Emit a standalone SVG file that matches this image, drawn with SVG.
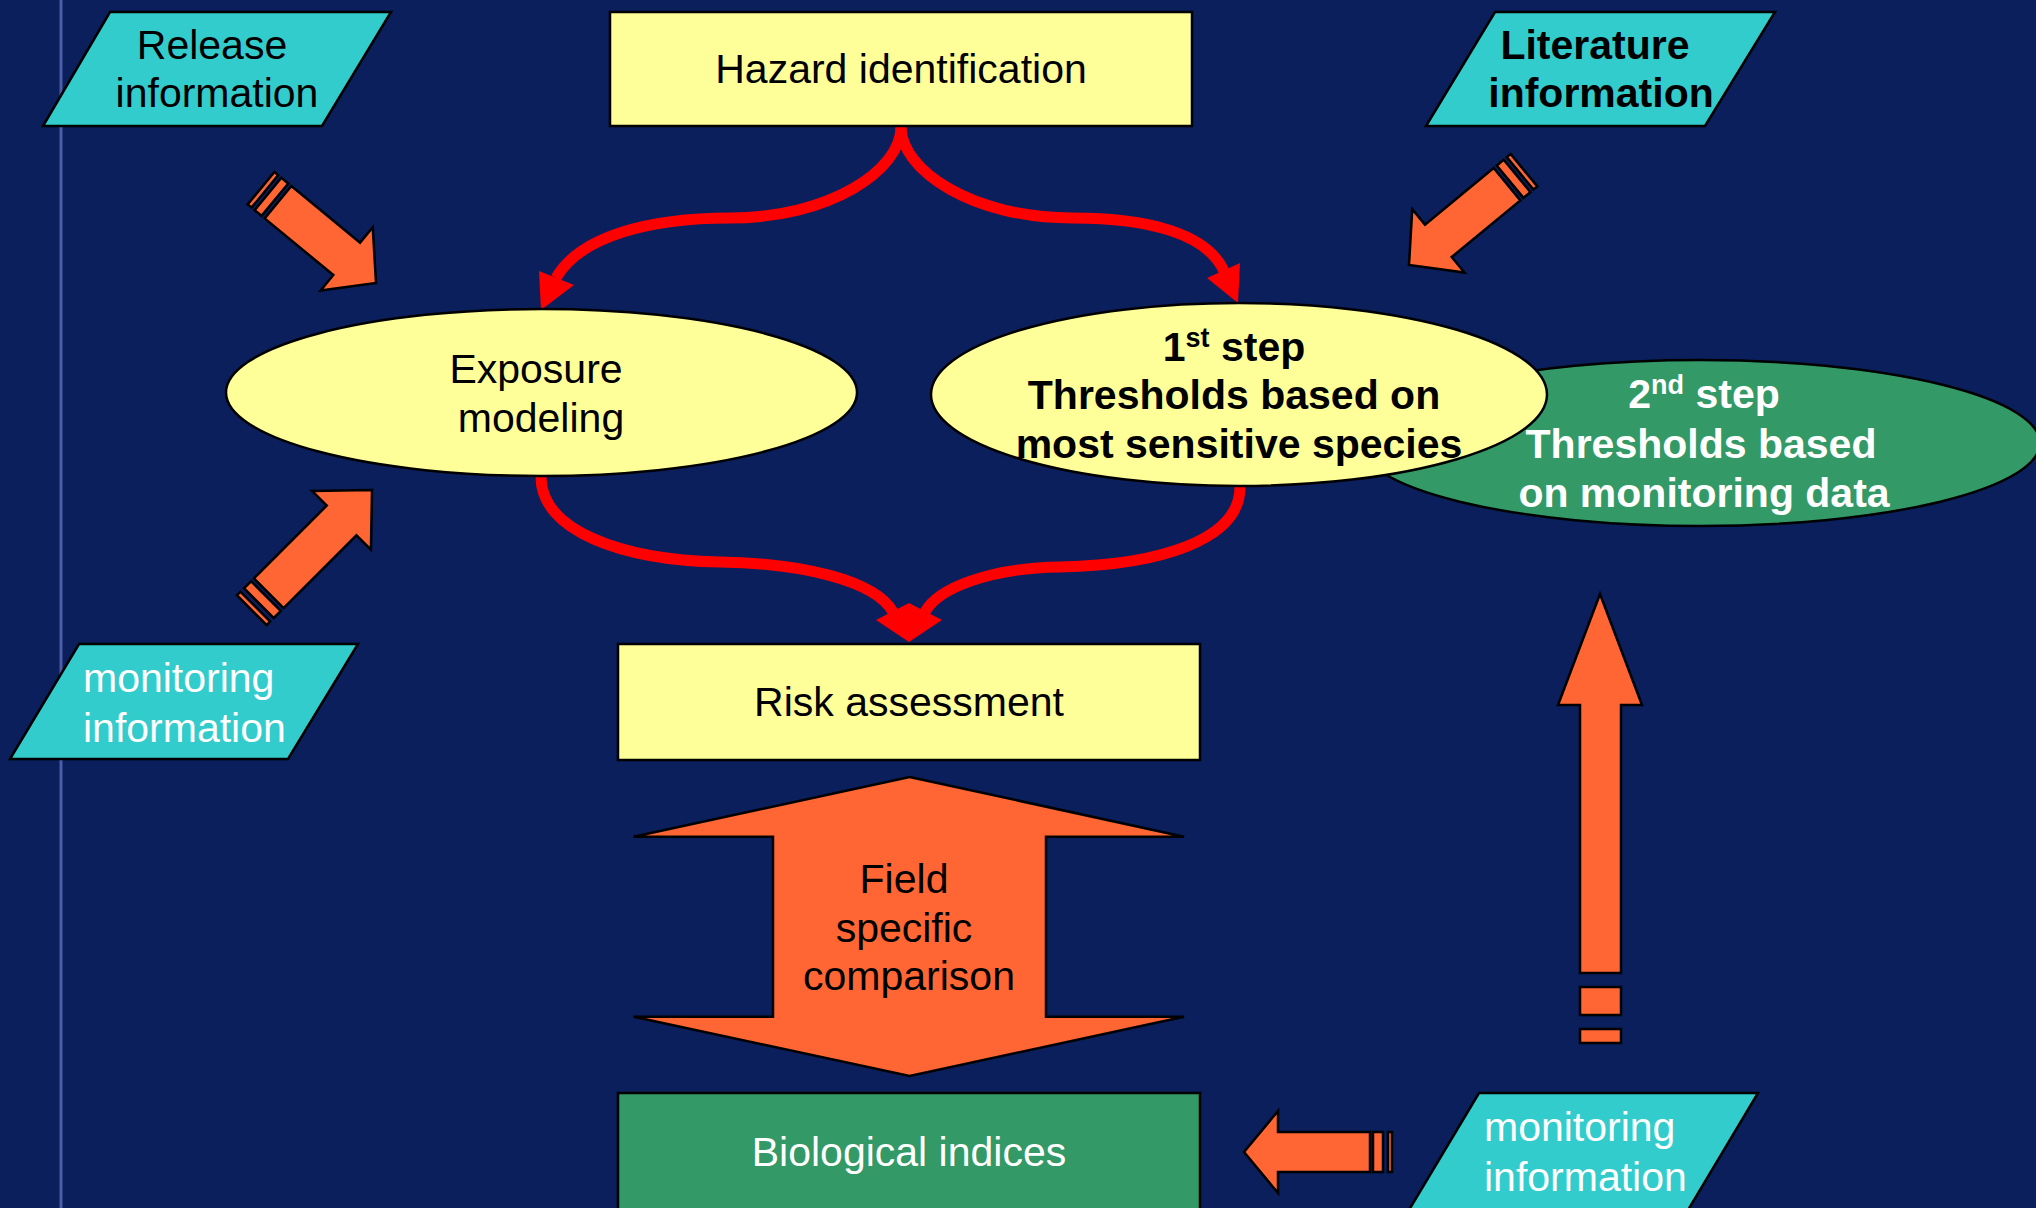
<svg xmlns="http://www.w3.org/2000/svg" width="2036" height="1208" viewBox="0 0 2036 1208">
<style>
.t{font-family:"Liberation Sans",Arial,sans-serif;font-size:41px}
.b{font-weight:bold}
.c{text-anchor:middle}
.k{fill:#000}
.w{fill:#fff}
.par{fill:#33cccc;stroke:#000;stroke-width:2.5}
.box{fill:#ffff99;stroke:#000;stroke-width:2.5}
.grn{fill:#339966;stroke:#000;stroke-width:2.5}
.org{fill:#ff6633;stroke:#000;stroke-width:2.5;stroke-linejoin:miter}
.red{fill:none;stroke:#ff0000;stroke-width:11}
.rh{fill:#ff0000}
</style>
<rect width="2036" height="1208" fill="#0a1f5b"/>
<line x1="61" y1="0" x2="61" y2="1208" stroke="#4d5ca6" stroke-width="3"/>

<g id="release-info">
<polygon class="par" points="110,12 391,12 322,126 43,126"/>
<text class="t k c" x="212" y="59">Release</text>
<text class="t k c" x="217" y="107">information</text>
</g>

<g id="literature-info">
<polygon class="par" points="1495,12 1775,12 1705,126 1426,126"/>
<text class="t b k c" x="1595" y="59">Literature</text>
<text class="t b k c" x="1601" y="107">information</text>
</g>

<g id="monitoring-info-left">
<polygon class="par" points="79,644 358,644 288,759 10,759"/>
<text class="t w" x="83" y="692">monitoring</text>
<text class="t w" x="83" y="742">information</text>
</g>

<g id="monitoring-info-right">
<polygon class="par" points="1479,1093 1758,1093 1688,1210 1409,1210"/>
<text class="t w" x="1484" y="1141">monitoring</text>
<text class="t w" x="1484" y="1191">information</text>
</g>

<g id="connectors">
<path class="red" d="M901,127 C901,170 830,218 730,218 C650,218 580,236 556,278"/>
<polygon class="rh" points="541,310 539,271 574,285"/>
<path class="red" d="M901,127 C901,170 972,218 1072,218 C1150,218 1207,234 1224,271"/>
<polygon class="rh" points="1238,303 1240,263 1207,278"/>
<path class="red" d="M541,477 C541,530 620,560 720,562 C800,563 875,580 893,612"/>
<polygon class="rh" points="909,642 876,620 909,603"/>
<path class="red" d="M1240,487 C1240,540 1160,565 1060,567 C990,568 938,588 925,612"/>
<polygon class="rh" points="909,642 942,620 909,603"/>

<g transform="translate(376,283) rotate(39.5)">
<path class="org" d="M0,0 L-38,-41 L-38,-21 L-127,-21 L-127,21 L-38,21 L-38,41 Z"/>
<rect class="org" x="-140" y="-21" width="9" height="42"/>
<rect class="org" x="-149" y="-21" width="5" height="42"/>
</g>
<g transform="translate(1409,265) rotate(140.5)">
<path class="org" d="M0,0 L-38,-41 L-38,-21 L-127,-21 L-127,21 L-38,21 L-38,41 Z"/>
<rect class="org" x="-140" y="-21" width="9" height="42"/>
<rect class="org" x="-149" y="-21" width="5" height="42"/>
</g>
<g transform="translate(372,490) rotate(-45)">
<path class="org" d="M0,0 L-43,-41.5 L-43,-21 L-146,-21 L-146,21 L-43,21 L-43,41.5 Z"/>
<rect class="org" x="-160" y="-21" width="10" height="42"/>
<rect class="org" x="-170" y="-21" width="5" height="42"/>
</g>
<g id="up-arrow">
<path class="org" d="M1600,594 L1642,705 L1621,705 L1621,973 L1580,973 L1580,705 L1558,705 Z"/>
<rect class="org" x="1580" y="987" width="41" height="28"/>
<rect class="org" x="1580" y="1029" width="41" height="14"/>
</g>
<g id="left-arrow">
<path class="org" d="M1244,1152 L1278,1111 L1278,1132 L1370,1132 L1370,1172 L1278,1172 L1278,1193 Z"/>
<rect class="org" x="1373" y="1132" width="10" height="40"/>
<rect class="org" x="1388" y="1132" width="4" height="40"/>
</g>
</g>

<g id="hazard-identification">
<rect class="box" x="610" y="12" width="582" height="114"/>
<text class="t k c" x="901" y="83">Hazard identification</text>
</g>

<g id="exposure-modeling">
<ellipse class="box" cx="541.5" cy="392.5" rx="315.5" ry="83.5"/>
<text class="t k c" x="536" y="383">Exposure</text>
<text class="t k c" x="541" y="432">modeling</text>
</g>

<g id="second-step">
<ellipse class="grn" cx="1700" cy="443" rx="340" ry="83"/>
<text class="t b w c" x="1704" y="408">2<tspan font-size="27" dy="-14">nd</tspan><tspan dy="14"> step</tspan></text>
<text class="t b w c" x="1701" y="458">Thresholds based</text>
<text class="t b w c" x="1704" y="507">on monitoring data</text>
</g>

<g id="first-step">
<ellipse class="box" cx="1239" cy="394.5" rx="308" ry="91.5"/>
<text class="t b k c" x="1234" y="361">1<tspan font-size="27" dy="-14">st</tspan><tspan dy="14"> step</tspan></text>
<text class="t b k c" x="1234" y="409">Thresholds based on</text>
<text class="t b k c" x="1239" y="458">most sensitive species</text>
</g>

<g id="risk-assessment">
<rect class="box" x="618" y="644" width="582" height="116"/>
<text class="t k c" x="909" y="716">Risk assessment</text>
</g>

<g id="field-specific-comparison">
<polygon class="org" points="909.6,777 1184,836.7 1046,836.7 1046,1016.7 1184,1016.7 909.6,1076 633.6,1016.7 773,1016.7 773,836.7 633.6,836.7"/>
<text class="t k c" x="904" y="893">Field</text>
<text class="t k c" x="904" y="942">specific</text>
<text class="t k c" x="909" y="990">comparison</text>
</g>

<g id="biological-indices">
<rect class="grn" x="618" y="1093" width="582" height="120"/>
<text class="t w c" x="909" y="1166">Biological indices</text>
</g>
</svg>
